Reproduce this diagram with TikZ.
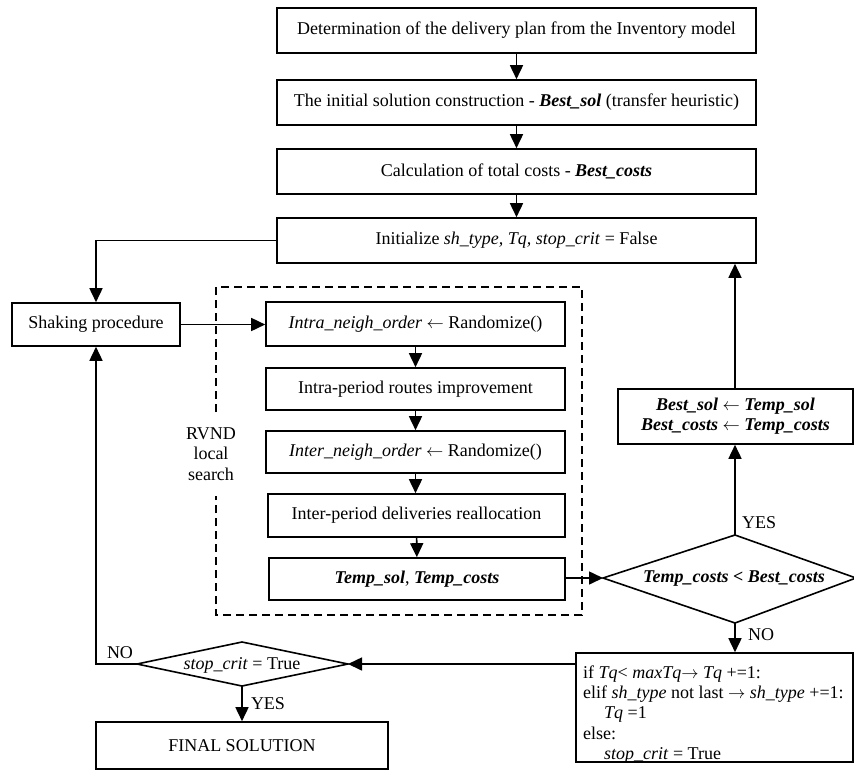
\documentclass[tikz,border=0pt]{standalone}
\usepackage{fontspec}
\setmainfont{Liberation Serif}
\usetikzlibrary{arrows.meta}
\newcommand{\bi}[1]{\textbf{\textit{#1}}}
\begin{document}
\begin{tikzpicture}[x=1pt,y=-1pt,
  font=\fontsize{18}{20.3}\selectfont,
  ln/.style={line width=1.6pt},
  arr/.style={ln,-{Triangle[length=14pt,width=13pt]}},
  box/.style={draw,ln,rectangle,inner sep=0pt,align=center},
  lbl/.style={inner sep=0pt}
]
\useasboundingbox (0,0) rectangle (854,772);
% top chain
\node[box,minimum width=479pt,minimum height=45pt] (b1) at (516.5,30.5) {Determination of the delivery plan from the Inventory model};
\node[box,minimum width=479pt,minimum height=45pt] (b2) at (516.5,102.5) {The initial solution construction - \bi{Best\_sol} (transfer heuristic)};
\node[box,minimum width=479pt,minimum height=45pt] (b3) at (516.5,171.5) {Calculation of total costs - \bi{Best\_costs}};
\node[box,minimum width=479pt,minimum height=45pt] (b4) at (516.5,240.5) {Initialize \textit{sh\_type, Tq, stop\_crit} = False};
% shaking
\node[box,minimum width=168pt,minimum height=43pt] (shake) at (96,324.5) {Shaking procedure};
% RVND boxes
\node[box,minimum width=299pt,minimum height=44pt] (intra) at (415.5,324) {\textit{Intra\_neigh\_order} $\leftarrow$ Randomize()};
\node[box,minimum width=299pt,minimum height=42pt] (intraP) at (415.5,389) {Intra-period routes improvement};
\node[box,minimum width=299pt,minimum height=42pt] (inter) at (415.5,452) {\textit{Inter\_neigh\_order} $\leftarrow$ Randomize()};
\node[box,minimum width=297pt,minimum height=43pt] (interP) at (416.5,515.5) {Inter-period deliveries reallocation};
\node[box,minimum width=296pt,minimum height=42pt] (temp) at (417,579) {\bi{Temp\_sol}, \bi{Temp\_costs}};
% dashed frame
\draw[line width=1.4pt,dash pattern=on 8pt off 5pt] (216,412) -- (216,287) -- (582,287) -- (582,615) -- (216,615) -- (216,496);
\node[lbl,align=center] (rvnd) at (211,454) {RVND\\local\\search};
% best box
\node[box,minimum width=235pt,minimum height=55pt] (best) at (735.5,416.5) {\bi{Best\_sol} $\leftarrow$ \bi{Temp\_sol}\\\bi{Best\_costs} $\leftarrow$ \bi{Temp\_costs}};
% diamond 1
\coordinate (dL) at (603,578);
\coordinate (dT) at (735,535);
\coordinate (dR) at (856,578);
\coordinate (dB) at (735,623);
\draw[ln,line join=miter] (dL) -- (dT) -- (dR) -- (dB) -- cycle;
\node[lbl] (dtext) at (734,579) {\bi{Temp\_costs <  Best\_costs}};
% if box
\node[box,minimum width=277pt,minimum height=109pt] (ifbox) at (714.5,707.5) {};
\node[lbl,anchor=west,align=left] (iftext) at (583,714.5) {if \textit{Tq}< \textit{maxTq}$\rightarrow$ \textit{Tq} +=1:\\
elif \textit{sh\_type} not last $\rightarrow$ \textit{sh\_type} +=1:\\
\hspace*{21pt}\textit{Tq} =1\\
else:\\
\hspace*{21pt}\textit{stop\_crit} = True};
% diamond 2
\coordinate (eL) at (137,664);
\coordinate (eT) at (242,642);
\coordinate (eR) at (348,664);
\coordinate (eB) at (242,686);
\draw[ln,line join=miter] (eL) -- (eT) -- (eR) -- (eB) -- cycle;
\node[lbl] (etext) at (242,665) {\textit{stop\_crit} = True};
% final
\node[box,minimum width=292pt,minimum height=47pt] (final) at (242,745.5) {FINAL SOLUTION};
% labels
\node[lbl] (no1) at (120,653) {NO};
\node[lbl] (yes1) at (268,704) {YES};
\node[lbl] (yes2) at (759,523) {YES};
\node[lbl] (no2) at (761,635) {NO};
% connectors
\draw[arr] (b1) -- (b2);
\draw[arr] (b2) -- (b3);
\draw[arr] (b3) -- (b4);
\draw[arr] (b4.west) -| (shake.north);
\draw[arr] (shake.east) -- (shake.east -| intra.west);
\draw[arr] (intra) -- (intraP);
\draw[arr] (intraP) -- (inter);
\draw[arr] (inter.south) -- (inter.south |- interP.north);
\draw[arr] (interP) -- (temp);
\draw[arr] (temp.east |- dL) -- (dL);
\draw[arr] (dT) -- (dT |- best.south);
\draw[arr] (best.north -| dT) -- (dT |- b4.south);
\draw[arr] (dB) -- (dB |- ifbox.north);
\draw[arr] (ifbox.west |- eR) -- (eR);
\draw[arr] (eL) -| (shake.south);
\draw[arr] (eB) -- (final.north);
\end{tikzpicture}
\end{document}
